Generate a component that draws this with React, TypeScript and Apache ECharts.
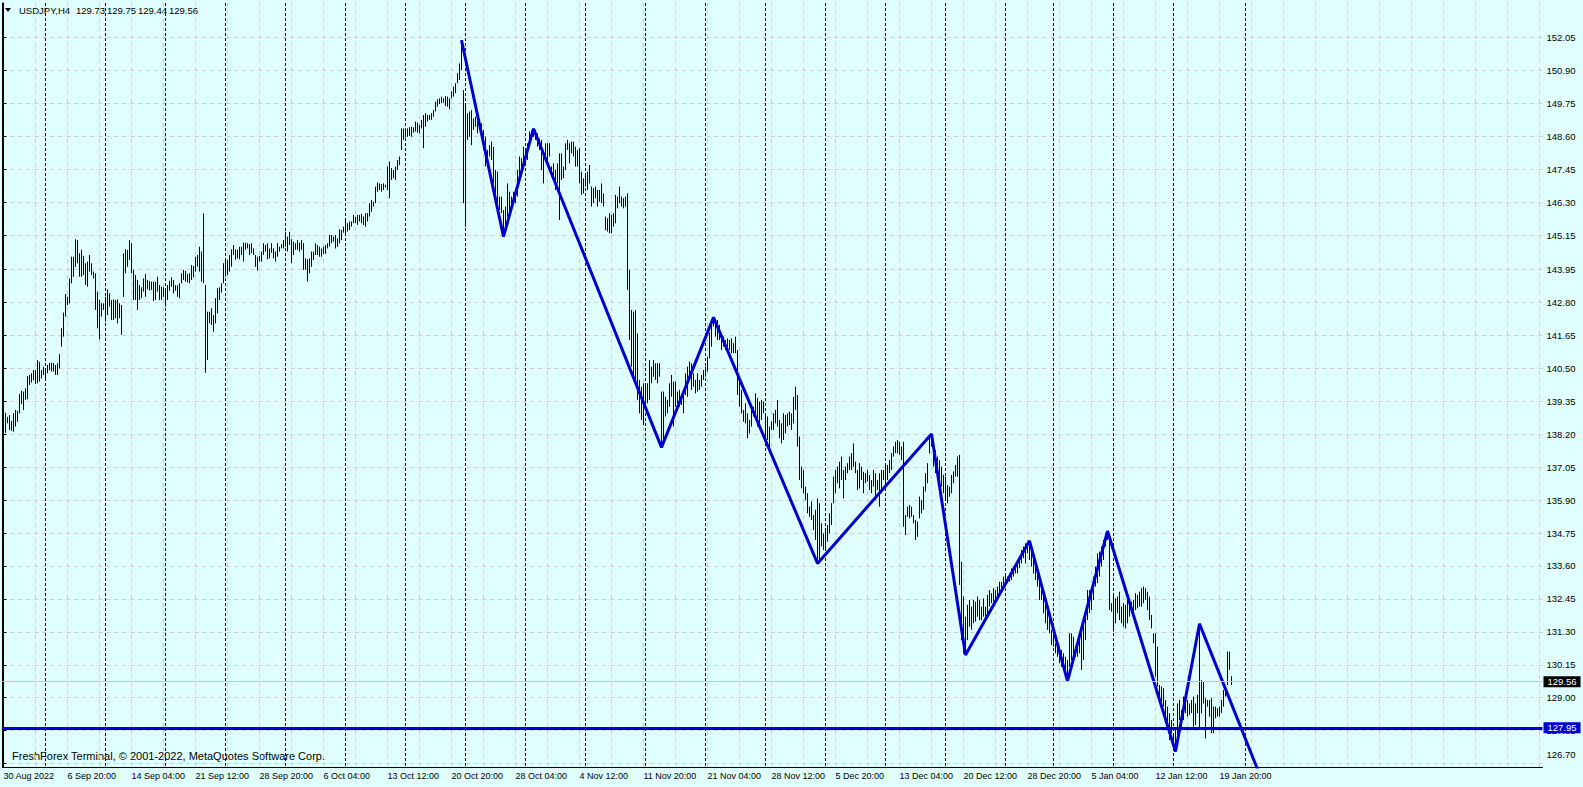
import React, { useEffect, useRef } from "react";
import * as echarts from "echarts";

const symbolTitle = "USDJPY,H4";
const lastBarOHLC = ["129.73", "129.75", "129.44", "129.56"];
const watermark = "FreshForex Terminal, © 2001-2022, MetaQuotes Software Corp.";

// H4 bar highs (one per bar, oldest first)
const highs = [
  139.10,138.95,138.81,138.87,138.67,138.93,139.05,139.02,139.61,139.72,
  139.69,139.80,140.23,140.27,140.33,140.44,140.44,140.79,140.73,140.44,
  140.56,140.50,140.62,140.68,140.70,140.68,140.62,140.68,141.00,141.90,
  142.45,143.10,143.00,143.64,144.40,144.40,145.01,144.98,144.52,144.64,
  144.43,144.17,144.23,144.46,144.17,143.88,143.82,143.18,142.89,142.77,
  142.77,143.00,143.26,143.12,142.89,142.91,142.89,142.91,142.77,142.71,
  144.52,144.66,144.64,144.98,144.87,143.94,143.76,143.59,143.41,143.33,
  143.64,143.80,143.59,143.55,143.53,143.53,143.53,143.70,143.41,143.35,
  143.33,143.24,143.41,143.56,143.68,143.59,143.41,143.40,143.47,143.82,
  143.94,143.91,143.80,143.82,144.11,144.08,144.40,144.46,144.75,144.58,
  145.91,143.41,142.48,142.48,142.60,142.36,142.95,143.30,143.33,143.47,
  144.17,144.29,144.29,144.46,144.66,144.81,144.66,144.64,144.75,144.75,
  144.89,144.89,144.87,144.84,144.87,144.69,144.46,144.40,144.43,144.58,
  144.87,144.81,144.87,144.69,144.87,144.69,144.58,144.87,144.75,144.84,
  144.98,145.27,145.10,145.27,145.01,144.93,144.87,144.98,144.89,144.98,
  144.87,144.34,144.31,144.34,144.58,144.58,144.87,144.81,144.75,144.69,
  144.75,144.81,144.87,145.16,145.16,145.10,145.16,145.04,145.36,145.33,
  145.45,145.74,145.57,145.63,145.63,145.86,145.80,145.86,145.86,145.89,
  145.80,145.92,145.92,146.27,146.38,146.32,146.85,146.99,146.96,146.94,
  146.96,146.91,147.55,147.72,147.49,147.43,147.55,147.78,147.90,148.88,
  148.88,148.83,148.88,148.92,148.94,148.92,149.12,149.08,149.00,149.18,
  149.35,149.41,149.35,149.35,149.41,149.52,149.82,149.90,149.93,149.99,
  149.93,150.01,149.99,149.93,150.17,150.34,150.46,150.81,151.15,151.96,
  150.22,149.76,149.41,149.47,149.52,149.23,149.29,149.12,149.00,149.06,
  148.83,148.59,148.13,148.30,148.42,148.24,147.43,147.37,146.50,146.50,
  146.03,146.15,146.96,146.67,146.50,146.67,146.73,147.43,147.90,147.84,
  148.24,148.13,148.36,148.77,148.80,148.87,148.83,148.71,148.53,148.48,
  147.90,148.36,148.36,148.36,147.55,147.66,147.43,147.66,148.01,148.01,
  147.55,148.36,148.48,148.36,148.42,148.42,148.24,148.13,148.19,147.37,
  147.14,147.31,147.37,147.60,146.85,146.79,146.85,146.73,146.73,146.96,
  146.61,145.80,145.74,145.92,145.86,145.92,146.56,146.50,146.85,146.50,
  146.44,146.50,146.61,143.94,142.54,142.48,142.54,141.72,140.10,139.86,
  139.98,139.98,139.98,140.79,140.56,140.79,140.68,140.68,140.68,139.69,
  139.69,139.51,139.40,139.98,140.27,140.04,140.04,139.69,139.75,139.51,
  139.63,140.33,140.56,140.74,140.68,140.33,140.10,140.33,140.10,140.27,
  140.45,140.56,140.90,141.75,142.19,142.28,142.20,142.19,142.02,141.73,
  141.61,141.49,141.55,141.49,141.55,141.38,141.61,141.14,140.21,139.75,
  139.05,139.28,138.93,138.70,139.05,139.16,139.63,139.46,139.34,139.40,
  139.34,138.93,138.82,138.47,138.64,138.93,139.05,139.40,138.70,138.58,
  138.93,138.87,138.93,138.99,138.93,139.51,139.86,139.57,138.12,137.07,
  136.95,136.37,136.14,135.67,135.85,135.38,135.56,135.96,135.79,135.09,
  134.74,134.86,135.03,135.44,135.79,136.72,136.95,137.07,137.24,137.42,
  136.95,137.07,137.19,137.42,137.54,137.88,137.24,136.95,137.19,137.07,
  136.89,136.84,136.95,136.78,136.60,136.95,136.84,136.60,136.84,136.95,
  136.95,137.19,137.13,137.30,137.54,137.77,137.94,138.00,137.94,137.77,
  137.94,135.38,135.67,135.73,135.67,135.38,135.21,135.15,136.02,135.90,
  136.37,136.84,137.19,138.12,138.21,138.00,137.65,137.42,137.30,137.07,
  136.78,136.72,136.43,136.37,136.78,136.90,137.13,137.42,137.48,133.75,
  132.53,131.83,132.24,132.41,132.18,132.41,132.35,132.53,132.41,132.18,
  132.47,132.18,132.59,132.76,132.65,132.82,132.76,132.88,133.05,133.05,
  133.23,133.34,133.23,133.34,133.52,133.58,133.64,133.81,133.93,134.16,
  134.28,134.39,134.40,134.48,134.28,133.93,133.81,133.58,133.11,132.88,
  132.65,132.41,132.18,131.95,131.37,131.25,130.90,130.84,130.78,130.67,
  130.55,130.43,130.32,131.25,131.25,131.13,130.78,130.90,131.25,131.25,
  131.60,132.06,132.76,132.76,132.88,133.23,133.58,134.04,134.10,134.28,
  134.51,134.74,134.82,134.74,132.30,132.65,132.47,132.53,132.70,132.18,
  132.30,132.24,132.41,132.41,132.35,132.41,132.65,132.59,132.70,132.82,
  132.88,132.82,132.70,132.53,131.89,131.25,131.25,130.78,129.44,129.39,
  129.33,128.92,128.69,128.46,128.22,127.76,127.87,128.80,128.92,128.57,
  129.04,129.04,128.92,128.80,128.92,129.04,128.80,129.10,131.58,129.62,
  129.56,128.98,128.92,128.92,128.98,128.69,128.69,128.63,128.69,128.92,
  129.27,129.39,130.61,130.61,129.75,
];

// H4 bar lows (same order)
const lows = [
  138.15,138.25,138.58,138.35,138.32,138.29,138.47,138.64,138.93,139.26,
  139.05,139.40,139.42,139.92,140.00,140.09,139.96,139.98,140.04,140.15,
  140.27,140.15,140.33,140.44,140.39,140.39,140.27,140.27,140.50,141.26,
  141.61,142.31,142.71,142.77,143.47,143.70,144.05,144.17,143.70,143.70,
  143.76,143.41,143.35,143.88,143.76,143.64,142.54,141.90,141.51,142.31,
  142.54,142.13,142.36,142.66,142.19,142.19,142.25,142.07,142.25,141.67,
  143.00,143.82,144.05,144.29,143.82,142.89,142.89,142.54,142.89,142.95,
  143.18,143.00,143.26,143.22,143.24,142.85,142.89,143.18,142.89,142.89,
  143.00,142.66,142.89,143.21,143.35,143.12,143.21,143.00,142.95,143.47,
  143.59,143.53,143.50,143.47,143.59,143.68,143.88,144.05,143.88,143.53,
  143.47,140.35,140.79,142.07,142.01,141.78,142.07,142.42,142.89,143.15,
  143.47,143.70,143.76,143.88,144.05,144.46,144.29,144.34,144.31,144.46,
  144.23,144.64,144.69,144.46,144.52,144.46,144.05,143.91,144.23,144.23,
  144.46,144.58,144.31,144.34,144.54,144.34,144.23,144.40,144.58,144.69,
  144.69,144.75,144.58,144.81,144.17,144.46,144.64,144.64,144.58,144.64,
  143.94,143.94,143.53,143.82,144.05,144.29,144.46,144.46,144.40,144.40,
  144.50,144.50,144.69,144.75,144.87,144.93,144.69,144.75,144.87,144.98,
  145.24,145.22,145.28,145.33,145.45,145.57,145.57,145.51,145.63,145.57,
  145.51,145.45,145.63,145.80,145.97,146.15,146.27,146.67,146.73,146.67,
  146.73,146.82,146.73,146.44,147.08,147.14,147.08,147.43,147.60,148.13,
  148.48,148.57,148.59,148.62,148.59,148.73,148.77,148.73,148.71,148.88,
  148.19,148.94,149.12,149.18,149.18,149.29,149.47,149.64,149.73,149.76,
  149.78,149.66,149.64,149.55,149.93,149.99,150.11,150.46,150.57,150.92,
  146.27,145.45,148.48,148.59,148.30,148.83,148.94,148.71,148.83,148.71,
  148.13,147.55,147.66,147.90,147.78,146.96,146.61,146.27,146.03,145.92,
  145.10,145.28,145.80,145.92,146.15,146.27,146.27,146.50,146.96,147.20,
  147.78,147.66,147.78,148.24,148.59,148.59,148.48,148.24,148.13,147.43,
  146.96,147.78,147.55,147.90,147.20,147.08,146.73,146.96,145.68,147.08,
  147.14,147.43,148.13,147.66,148.01,147.90,147.55,147.55,146.96,146.56,
  146.61,146.85,146.73,146.96,146.15,146.27,146.44,146.15,146.32,146.27,
  146.15,145.33,145.28,145.22,145.22,145.45,145.57,146.09,146.27,146.15,
  146.09,146.15,143.24,141.49,140.56,140.10,139.98,139.40,138.93,138.70,
  138.52,139.16,139.28,139.40,139.98,140.21,140.10,139.98,140.21,137.74,
  138.00,138.82,138.93,139.16,139.51,138.47,139.16,139.28,139.16,139.22,
  138.93,139.57,139.51,140.10,139.75,139.86,139.63,139.69,139.75,139.86,
  140.10,140.21,140.39,140.85,141.26,141.96,141.61,141.49,141.49,141.14,
  141.26,141.14,141.26,141.14,141.03,141.03,141.03,139.57,139.16,138.93,
  138.64,138.58,138.06,138.23,138.47,138.82,138.93,138.47,138.58,138.70,
  138.93,138.00,138.00,137.54,138.35,138.35,138.58,138.47,138.06,137.88,
  138.00,138.23,138.47,138.52,138.35,138.58,139.05,137.77,136.60,136.31,
  136.14,135.90,135.44,135.32,135.21,134.86,134.51,133.69,133.81,134.28,
  134.16,134.16,134.45,134.74,135.03,135.79,136.14,136.49,136.31,136.60,
  135.96,136.60,136.84,136.95,136.95,137.07,136.84,136.25,136.31,136.60,
  136.14,136.49,136.55,136.25,136.14,136.37,135.90,136.25,135.67,136.14,
  136.60,136.37,136.60,136.84,136.95,137.42,137.54,137.54,137.48,137.30,
  134.97,134.68,135.32,135.26,135.32,135.09,134.51,134.62,135.26,135.44,
  135.56,136.20,136.49,137.53,137.77,137.07,136.84,136.66,136.31,136.37,
  136.14,135.90,135.79,136.02,136.14,136.49,136.72,136.72,132.94,131.01,
  130.55,130.49,131.01,131.48,131.37,131.60,131.66,131.83,131.71,131.71,
  131.83,131.83,131.95,132.18,132.30,132.35,132.41,132.53,132.65,132.70,
  132.82,132.88,133.00,133.05,133.11,133.23,133.34,133.34,133.52,133.69,
  133.87,133.69,134.04,133.81,133.58,133.34,133.11,132.88,132.41,132.41,
  131.95,131.60,131.37,131.25,130.84,130.78,130.55,130.43,130.20,130.08,
  129.97,129.74,129.58,130.08,130.32,130.20,130.43,130.43,130.55,129.97,
  130.32,131.01,131.71,131.95,132.06,132.41,132.88,133.00,133.23,133.58,
  133.81,134.28,134.51,132.06,132.00,131.31,131.60,131.95,131.71,131.60,
  131.48,131.42,131.60,131.83,131.95,131.89,132.06,132.12,132.18,132.18,
  132.30,132.41,132.06,131.71,131.42,130.90,129.74,129.39,128.92,128.86,
  128.69,128.34,127.87,127.52,127.76,127.29,127.12,127.52,128.22,127.99,
  128.22,128.46,128.34,128.40,128.46,127.99,128.05,128.46,127.87,128.46,
  128.80,127.58,128.69,128.34,127.76,127.76,128.28,128.34,128.34,128.46,
  128.69,129.04,129.44,129.97,129.44,
];

// ZigZag vertices: bar index and price
const zigzagBars = [229, 250, 265, 329, 355, 407, 464, 481, 513, 532, 552, 586, 598, 630];
const zigzagPrices = [151.96, 145.10, 148.87, 137.74, 142.28, 133.69, 138.21, 130.49, 134.48, 129.58, 134.82, 127.12, 131.58, 125.98];

// weekly period separators (bar index of the week start)
const weekSeparatorBars = [21, 51, 81, 111, 141, 171, 201, 231, 261, 291, 321, 351, 381, 411, 441, 471, 501, 525, 555, 585, 621];

const timeLabels = [
  "30 Aug 2022", "6 Sep 20:00", "14 Sep 04:00", "21 Sep 12:00", "28 Sep 20:00",
  "6 Oct 04:00", "13 Oct 12:00", "20 Oct 20:00", "28 Oct 04:00", "4 Nov 12:00",
  "11 Nov 20:00", "21 Nov 04:00", "28 Nov 12:00", "5 Dec 20:00", "13 Dec 04:00",
  "20 Dec 12:00", "28 Dec 20:00", "5 Jan 04:00", "12 Jan 12:00", "19 Jan 20:00",
];
const timeLabelStep = 32;
const gridStepBars = 16;
const totalSlots = 770;

const priceLabels = [
  "152.05", "150.90", "149.75", "148.60", "147.45", "146.30", "145.15", "143.95",
  "142.80", "141.65", "140.50", "139.35", "138.20", "137.05", "135.90", "134.75",
  "133.60", "132.45", "131.30", "130.15", "129.00", "127.85", "126.70",
];
const priceMin = 126.58;
const priceMax = 153.26;
const levelPrice = 127.95;
const bidPrice = 129.56;

const FONT = '"Liberation Sans", Arial, sans-serif';
const BG = "#E0FFFF";
const GRIDC = "#d9c6ce";
const BLUE = "#0000CD";

export default function App() {
  const ref = useRef<HTMLDivElement>(null);

  useEffect(() => {
    if (!ref.current) return;
    const chart = echarts.init(ref.current, null, { renderer: "svg" });

    const barData = highs.map((h, i) => [i, h, lows[i]]);
    const gridBars: number[] = [];
    for (let b = gridStepBars; b < totalSlots; b += gridStepBars) gridBars.push(b);
    const labelBars = timeLabels.map((_, k) => k * timeLabelStep);
    const priceValues = priceLabels.map(Number);
    const bottomLabel = priceLabels[priceLabels.length - 1];

    const option: any = {
      animation: false,
      backgroundColor: BG,
      grid: { left: 2.5, right: 40.5, top: 3, bottom: 20, containLabel: false },
      xAxis: [
        {
          type: "value",
          min: -0.5,
          max: totalSlots - 0.5,
          axisLine: { show: true, onZero: false, lineStyle: { color: "#000", width: 1 } },
          axisTick: { show: false, customValues: gridBars },
          splitLine: { show: true, lineStyle: { color: GRIDC, width: 1, type: [4, 4] } },
          axisLabel: {
            customValues: labelBars,
            formatter: (v: number) => timeLabels[Math.round(v / timeLabelStep)] ?? "",
            align: "left",
            margin: 4,
            color: "#000",
            fontSize: 9,
            fontFamily: FONT,
            hideOverlap: false,
          },
        },
      ],
      yAxis: [
        {
          type: "value",
          position: "right",
          min: priceMin,
          max: priceMax,
          axisLine: { show: true, lineStyle: { color: "#000", width: 1 } },
          axisTick: { show: true, length: 3, inside: false, customValues: priceValues, lineStyle: { color: "#000" } },
          splitLine: { show: true, lineStyle: { color: GRIDC, width: 1, type: [4, 4] } },
          axisLabel: {
            customValues: priceValues,
            margin: 4,
            color: "#000",
            fontSize: 9.5,
            fontFamily: FONT,
            formatter: (v: number) => {
              const s = v.toFixed(2);
              return s === bottomLabel ? `{edge|${s}}` : s;
            },
            rich: {
              edge: { fontSize: 9.5, fontFamily: FONT, color: "#000", padding: [0, 0, 19, 0] },
            },
          },
        },
        {
          type: "value",
          position: "left",
          min: priceMin,
          max: priceMax,
          axisLine: { show: true, lineStyle: { color: "#000", width: 1 } },
          axisTick: { show: false },
          axisLabel: { show: false },
          splitLine: { show: false },
        },
      ],
      series: [
        {
          type: "custom",
          name: "separators",
          z: 1,
          silent: true,
          data: weekSeparatorBars.map((b) => [b, priceMin]),
          encode: { x: 0, y: 1 },
          renderItem: (params: any, api: any) => {
            const x = api.coord([api.value(0), priceMin])[0];
            const cs = params.coordSys;
            return {
              type: "line",
              shape: { x1: x, y1: cs.y, x2: x, y2: cs.y + cs.height },
              style: { stroke: "#000", lineWidth: 1, lineDash: [3, 2] },
            };
          },
        },
        {
          type: "custom",
          name: "bars",
          z: 2,
          silent: true,
          clip: true,
          data: barData,
          encode: { x: 0, y: [1, 2] },
          renderItem: (params: any, api: any) => {
            const i = api.value(0);
            const top = api.coord([i, api.value(1)]);
            const bot = api.coord([i, api.value(2)]);
            let y2 = bot[1];
            if (y2 - top[1] < 1) y2 = top[1] + 1;
            return {
              type: "line",
              shape: { x1: top[0], y1: top[1], x2: top[0], y2 },
              style: { stroke: "#000", lineWidth: 1 },
            };
          },
        },
        {
          type: "line",
          name: "zigzag",
          z: 4,
          silent: true,
          clip: true,
          symbol: "none",
          showSymbol: false,
          data: zigzagBars.map((b, k) => [b, zigzagPrices[k]]),
          lineStyle: { color: BLUE, width: 3 },
          markLine: {
            silent: true,
            symbol: "none",
            animation: false,
            data: [
              {
                yAxis: bidPrice,
                lineStyle: { color: "#c4c4c4", width: 1, type: "solid" },
                label: {
                  show: true,
                  position: "end",
                  distance: 1,
                  formatter: bidPrice.toFixed(2),
                  color: "#fff",
                  backgroundColor: "#000",
                  padding: [1, 4, 0, 4],
                  fontSize: 9.5,
                  fontFamily: FONT,
                },
              },
              {
                yAxis: levelPrice,
                lineStyle: { color: BLUE, width: 3, type: "solid" },
                label: {
                  show: true,
                  position: "end",
                  distance: 1,
                  formatter: levelPrice.toFixed(2),
                  color: "#fff",
                  backgroundColor: BLUE,
                  padding: [1, 4, 0, 4],
                  fontSize: 9.5,
                  fontFamily: FONT,
                },
              },
            ],
          },
        },
      ],
      graphic: [
        {
          type: "polygon",
          silent: true,
          shape: { points: [[5, 8], [11, 8], [8, 12]] },
          style: { fill: "#000" },
        },
        {
          type: "text",
          x: 19,
          y: 10,
          silent: true,
          style: { text: symbolTitle, fill: "#000", fontSize: 9.5, fontFamily: FONT, verticalAlign: "middle" },
        },
        ...lastBarOHLC.map((v, k) => ({
          type: "text",
          x: 76 + k * 31,
          y: 10,
          silent: true,
          style: { text: v, fill: "#000", fontSize: 9.5, fontFamily: FONT, verticalAlign: "middle" },
        })),
        {
          type: "text",
          x: 12,
          y: 756,
          silent: true,
          style: { text: watermark, fill: "#000", fontSize: 11, fontFamily: FONT, verticalAlign: "middle" },
        },
      ],
    };

    chart.setOption(option);
    return () => chart.dispose();
  }, []);

  return (
    <div
      ref={ref}
      style={{ position: "fixed", left: 0, top: 0, width: 1583, height: 787, background: BG }}
    />
  );
}
